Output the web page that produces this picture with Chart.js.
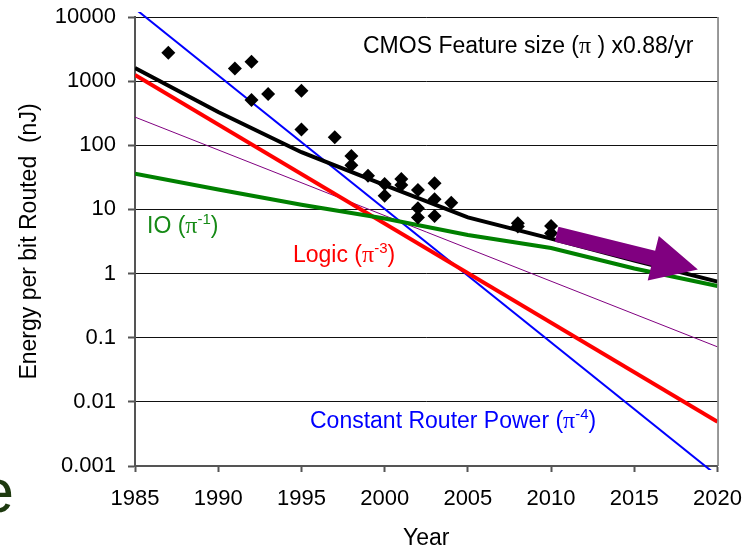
<!DOCTYPE html>
<html><head><meta charset="utf-8">
<script src="https://cdn.jsdelivr.net/npm/chart.js@4.4.0/dist/chart.umd.min.js"></script>
<style>html,body{margin:0;padding:0;background:#fff;overflow:hidden}canvas{display:block}</style>
</head><body>
<canvas id="c" width="756" height="550"></canvas>
<script>
// ---- data ----
const lineYears = [1985, 1990, 1995, 2000, 2005, 2010, 2015, 2020];
const totalEnergy = [1600, 330, 78, 24, 7.5, 3.5, 1.6, 0.75];
const ioEnergy = [36, 20.5, 11.8, 7.2, 4.0, 2.5, 1.2, 0.64];
const trendYears = [1985, 2020];
const logicEnergy = [1250, 0.0049];
const routerPowerEnergy = [13500, 0.0007];
const featureTrend = [275, 0.072];
const measuredYears = [1987,1991,1992,1992,1993,1995,1995,1997,1998,1998,1999,2000,2000,2001,2001,2002,2002,2002,2003,2003,2003,2004,2008,2008,2010,2010];
const measuredEnergy = [2770,1580,2000,508,630,710,177,133,68,49,33.6,24.9,16.4,29.8,24,20,10.4,7.5,25.5,14.4,7.9,12.7,6.1,5.4,5.5,4.25];
const arrowYears = [2010.33, 2018.82];
const arrowEnergy = [4.11, 1.16];
const xTickValues = [1985, 1990, 1995, 2000, 2005, 2010, 2015, 2020];
const xTickLabels = ['1985', '1990', '1995', '2000', '2005', '2010', '2015', '2020'];
const yTickValues = [0.001, 0.01, 0.1, 1, 10, 100, 1000, 10000];
const yTickLabels = ['0.001', '0.01', '0.1', '1', '10', '100', '1000', '10000'];

const pts = (xs, ys) => xs.map((x, i) => ({x: x, y: ys[i]}));
const SANS = "'Liberation Sans', Arial, sans-serif";
Chart.defaults.font.family = SANS;
Chart.defaults.color = '#000';

const labels = [
  {x: 363, y: 53, color: '#000', parts: [['CMOS Feature size (', 'n'], ['\u03C0', 'pi'], [' ) x0.88/yr', 'n']]},
  {x: 147, y: 233, color: '#168a16', parts: [['IO (', 'n'], ['\u03C0', 'pi'], ['-1', 'sup'], [')', 'n']]},
  {x: 293, y: 262, color: '#ff0000', parts: [['Logic (', 'n'], ['\u03C0', 'pi'], ['-3', 'sup'], [')', 'n']]},
  {x: 310, y: 428, color: '#0000ff', parts: [['Constant Router Power (', 'n'], ['\u03C0', 'pi'], ['-4', 'sup'], [')', 'n']]}
];

function drawRich(ctx, x, y, parts, color) {
  ctx.fillStyle = color; ctx.textBaseline = 'alphabetic'; ctx.textAlign = 'left';
  let cx = x;
  for (const [t, kind] of parts) {
    let font = "23px " + SANS, dy = 0;
    if (kind === 'pi') font = "24px 'Liberation Serif', serif";
    if (kind === 'sup') { font = "15px " + SANS; dy = -9; }
    ctx.font = font;
    ctx.fillText(t, cx, y + dy);
    cx += ctx.measureText(t).width;
  }
}

const overlay = {
  id: 'overlay',
  afterDatasetsDraw(chart) {
    const ctx = chart.ctx, a = chart.chartArea;
    const xs = chart.scales.x, ys = chart.scales.y;
    ctx.save();
    // right border of plot
    ctx.strokeStyle = '#777'; ctx.lineWidth = 1.5;
    ctx.beginPath(); ctx.moveTo(a.right + 0.5, a.top); ctx.lineTo(a.right + 0.5, a.bottom); ctx.stroke();
    // purple arrow
    const x0 = xs.getPixelForValue(arrowYears[0]), y0 = ys.getPixelForValue(arrowEnergy[0]);
    const x1 = xs.getPixelForValue(arrowYears[1]), y1 = ys.getPixelForValue(arrowEnergy[1]);
    const dx = x1 - x0, dy = y1 - y0, L = Math.hypot(dx, dy);
    const ux = dx / L, uy = dy / L, px = -uy, py = ux;
    const bw = 7.8, hw = 23, hl = 46;
    const bx = x1 - ux * hl, by = y1 - uy * hl;
    ctx.fillStyle = '#800080';
    ctx.beginPath();
    ctx.moveTo(x0 + px * bw, y0 + py * bw);
    ctx.lineTo(bx + px * bw, by + py * bw);
    ctx.lineTo(bx + px * hw, by + py * hw);
    ctx.lineTo(x1, y1);
    ctx.lineTo(bx - px * hw, by - py * hw);
    ctx.lineTo(bx - px * bw, by - py * bw);
    ctx.lineTo(x0 - px * bw, y0 - py * bw);
    ctx.closePath(); ctx.fill();
    // text labels
    for (const l of labels) drawRich(ctx, l.x, l.y, l.parts, l.color);
    // slide remnant letter at left edge
    ctx.fillStyle = '#1e3a0f'; ctx.font = "62px " + SANS; ctx.textAlign = 'right'; ctx.textBaseline = 'alphabetic';
    ctx.fillText('e', 14, 512);
    ctx.restore();
  }
};

new Chart(document.getElementById('c'), {
  type: 'line',
  data: {
    datasets: [
      {type: 'scatter', data: pts(measuredYears, measuredEnergy), pointStyle: 'rectRot', pointRadius: 7,
        backgroundColor: '#000', borderColor: '#000', borderWidth: 0, order: 0},
      {data: pts(lineYears, totalEnergy), borderColor: '#000', borderWidth: 4, pointRadius: 0, order: 1},
      {data: pts(lineYears, ioEnergy), borderColor: '#008000', borderWidth: 4, pointRadius: 0, order: 2},
      {data: pts(trendYears, logicEnergy), borderColor: '#ff0000', borderWidth: 4, pointRadius: 0, order: 3},
      {data: pts(trendYears, routerPowerEnergy), borderColor: '#0000ff', borderWidth: 2, pointRadius: 0, order: 4,
        clip: {left: 0, top: 5, right: 0, bottom: 4}},
      {data: pts(trendYears, featureTrend), borderColor: '#800080', borderWidth: 1, pointRadius: 0, order: 5}
    ]
  },
  options: {
    responsive: false, animation: false, devicePixelRatio: 1,
    layout: {padding: {left: 0, top: 17, right: 38, bottom: 0}},
    plugins: {legend: {display: false}, tooltip: {enabled: false}},
    scales: {
      x: {
        type: 'linear', min: 1985, max: 2020,
        afterFit: s => { s.height = 84; },
        afterBuildTicks: s => { s.ticks = xTickValues.map(v => ({value: v})); },
        ticks: {font: {size: 22}, color: '#000', padding: 14, maxRotation: 0, autoSkip: false,
          callback: (v, i) => xTickLabels[i]},
        grid: {drawOnChartArea: false, drawTicks: true, tickLength: 6, tickColor: '#555', tickWidth: 2},
        border: {display: true, color: '#555', width: 2},
        title: {display: true, text: 'Year', font: {size: 23, lineHeight: 1}, color: '#000', padding: {top: 0, bottom: 0}}
      },
      y: {
        type: 'logarithmic', min: 0.001, max: 10000,
        afterFit: s => { s.width = 135; s.paddingTop = 0; s.paddingBottom = 0; },
        afterBuildTicks: s => { s.ticks = yTickValues.map(v => ({value: v})); },
        ticks: {font: {size: 22}, color: '#000', padding: 12, autoSkip: false,
          callback: (v, i) => yTickLabels[i]},
        grid: {color: '#111', lineWidth: 1, drawTicks: true, tickLength: 7, tickColor: '#555', tickWidth: 2},
        border: {display: true, color: '#555', width: 2},
        title: {display: true, text: 'Energy per bit Routed  (nJ)', font: {size: 23, lineHeight: 1}, color: '#000',
          padding: {top: 18.5, bottom: 0}}
      }
    }
  },
  plugins: [overlay]
});
</script>
</body></html>
